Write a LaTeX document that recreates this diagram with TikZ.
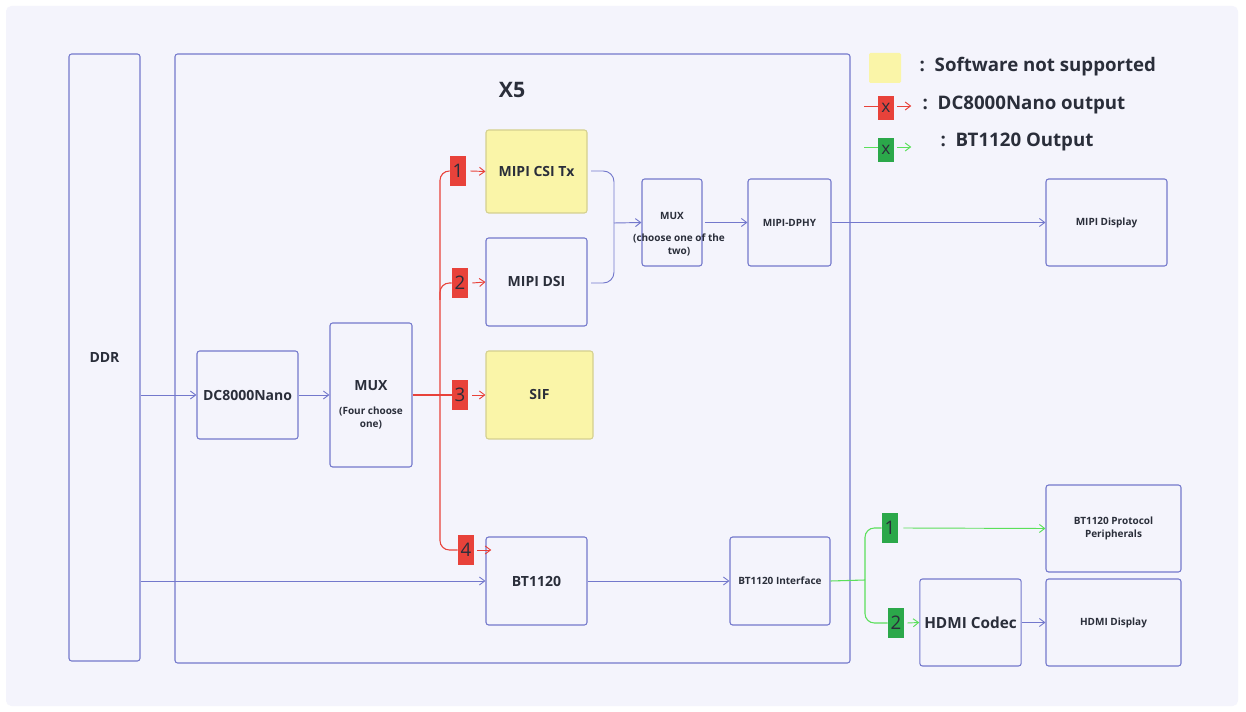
\documentclass[tikz,border=0pt]{standalone}
\usepackage{fontspec}
\setmainfont{Open Sans}
\usetikzlibrary{arrows.meta}
\definecolor{bg}{HTML}{F4F4FC}
\definecolor{bl}{HTML}{7378CC}
\definecolor{yl}{HTML}{FAF5A8}
\definecolor{rd}{HTML}{E8423A}
\definecolor{gr}{HTML}{5BE05B}
\definecolor{gtag}{HTML}{2BA84A}
\definecolor{txt}{HTML}{2A2E3A}
\begin{document}
\begin{tikzpicture}[x=0.75pt,y=-0.75pt,
 box/.style={draw=bl,line width=0.8pt,rounded corners=2pt,font=\bfseries\fontsize{10.5}{12}\selectfont,text=txt,align=center},
 sbox/.style={box,font=\bfseries\fontsize{7.5}{10}\selectfont},
 ar/.style={-{Straight Barb[length=4pt,width=6pt]},line width=0.7pt},
 rtag/.style={fill=rd,inner sep=1pt,minimum width=12pt,minimum height=22pt,font=\fontsize{14}{14}\selectfont,text=txt},
 gtg/.style={rtag,fill=gtag},
 leg/.style={anchor=west,font=\bfseries\fontsize{14}{16}\selectfont,text=txt}]
\useasboundingbox (0,0) rectangle (1246,712);
\fill[white] (0,0) rectangle (1246,712);
\fill[bg,rounded corners=4pt] (6,6) rectangle (1238,706);
\draw[bl,line width=0.8pt,rounded corners=2pt] (175,54) rectangle (850,663);
\node[font=\bfseries\fontsize{16}{18}\selectfont,text=txt] (x5) at (512,90) {X5};
\node[box,minimum width=53.25pt,minimum height=455.25pt] (ddr) at (104.5,357.5) {DDR};
\node[box,minimum width=75.75pt,minimum height=66pt] (dc) at (247.5,395) {DC8000Nano};
\node[box,minimum width=61.5pt,minimum height=108pt] (mux) at (371,395) {};
\node[box,draw=none] at (371,386) {MUX};
\node[sbox,draw=none] at (371,418) {(Four choose\\one)};
\node[box,fill=yl,draw=yl!85!black,minimum width=75.75pt,minimum height=62.25pt] (csi) at (536.5,171.5) {MIPI CSI Tx};
\node[box,minimum width=75.75pt,minimum height=66pt] (dsi) at (536.5,282) {MIPI DSI};
\node[box,fill=yl,draw=yl!85!black,minimum width=80.25pt,minimum height=66pt] (sif) at (539.5,395) {SIF};
\node[box,minimum width=75.75pt,minimum height=66pt] (bt) at (536.5,581) {BT1120};
\node[sbox,minimum width=45pt,minimum height=65.25pt] (mux2) at (672,222.5) {};
\node[sbox,draw=none] at (672,216) {MUX};
\node[sbox,draw=none] at (679,245) {(choose one of the\\two)};
\node[sbox,minimum width=62.25pt,minimum height=65.25pt] (dphy) at (789.5,222.5) {MIPI-DPHY};
\node[sbox,minimum width=90.75pt,minimum height=65.25pt] (md) at (1106.5,222.5) {MIPI Display};
\node[sbox,minimum width=75pt,minimum height=66pt] (bti) at (780,581) {BT1120 Interface};
\node[sbox,minimum width=101.25pt,minimum height=65.25pt] (btp) at (1113.5,528.5) {BT1120 Protocol\\Peripherals};
\node[box,font=\bfseries\fontsize{11.5}{13}\selectfont,minimum width=75.75pt,minimum height=65.25pt] (hc) at (970.5,622.5) {HDMI Codec};
\node[sbox,minimum width=101.25pt,minimum height=65.25pt] (hd) at (1113.5,622.5) {HDMI Display};
% legend
\node[fill=yl,minimum width=24pt,minimum height=22.5pt,rounded corners=1pt] (ly) at (885,68) {};
\node[leg] at (915,67) {:\ \ Software not supported};
\node[rtag,minimum height=18pt,font=\fontsize{13}{13}\selectfont] (lr) at (886,108) {x};
\draw[rd,line width=0.7pt] (864,106) -- (lr.west|-0,106);
\draw[rd,ar] (lr.east|-0,106) ++(3,0) -- ++(14,0);
\node[leg] at (918,105) {:\ \ DC8000Nano output};
\node[gtg,minimum height=18pt,font=\fontsize{13}{13}\selectfont] (lg) at (886,150) {x};
\draw[gr,line width=0.7pt] (864,147) -- (lg.west|-0,147);
\draw[gr,ar] (lg.east|-0,147) ++(3,0) -- ++(14,0);
\node[leg] at (936,142) {:\ \ BT1120 Output};
% blue arrows
\draw[bl,ar] (ddr.east|-dc) -- (dc);
\draw[bl,ar] (dc) -- (mux);
\draw[bl,ar] (ddr.east|-bt) -- (bt);
\draw[bl,ar] (bt) -- (bti);
\draw[bl,ar] (mux2.east) ++(2,0) -- (dphy.west);
\draw[bl,ar] (dphy) -- (md);
\draw[bl,ar] (hc) -- (hd);
\coordinate (j) at (614,223);
\draw[bl,line width=0.7pt,rounded corners=8pt] (591,171) -- (614,171) -- (j);
\draw[bl,line width=0.7pt,rounded corners=8pt] (591,283) -- (614,283) -- (j);
\draw[bl,ar] (j) -- (mux2.west);
% red tree
\coordinate (rj) at (440,395);
\draw[rd,line width=0.8pt] (mux.east) -- (rj);
\node[rtag] (t1) at (458,171) {1};
\node[rtag] (t2) at (460,283) {2};
\node[rtag] (t3) at (460,395) {3};
\node[rtag] (t4) at (466,550) {4};
\draw[rd,line width=0.8pt,rounded corners=7pt] (rj) -- (440,171) -- (t1.west);
\draw[rd,line width=0.8pt,rounded corners=7pt] (rj) -- (440,550) -- (t4.west);
\draw[rd,line width=0.8pt,rounded corners=7pt] (440,300) -- (440,283) -- (t2.west);
\draw[rd,line width=0.8pt] (rj) -- (t3.west);
\draw[rd,ar] (t1.east) ++(4,0) -- (csi.west);
\draw[rd,ar] (t2.east) ++(4,0) -- (dsi.west);
\draw[rd,ar] (t3.east) ++(4,0) -- (sif.west);
\draw[rd,ar] (t4.east) ++(3,0) -- ++(14,0);
% green tree
\coordinate (gj) at (865,580);
\draw[gr,line width=0.8pt] (bti.east) -- (gj);
\node[gtg] (g1) at (890,528) {1};
\node[gtg] (g2) at (896,623) {2};
\draw[gr,line width=0.8pt,rounded corners=7pt] (gj) -- (865,528) -- (g1.west);
\draw[gr,line width=0.8pt,rounded corners=7pt] (gj) -- (865,623) -- (g2.west);
\draw[gr,ar] (g1.east) ++(5,0) -- (btp.west);
\draw[gr,ar] (g2.east) ++(3,0) -- (hc.west);
\end{tikzpicture}
\end{document}
